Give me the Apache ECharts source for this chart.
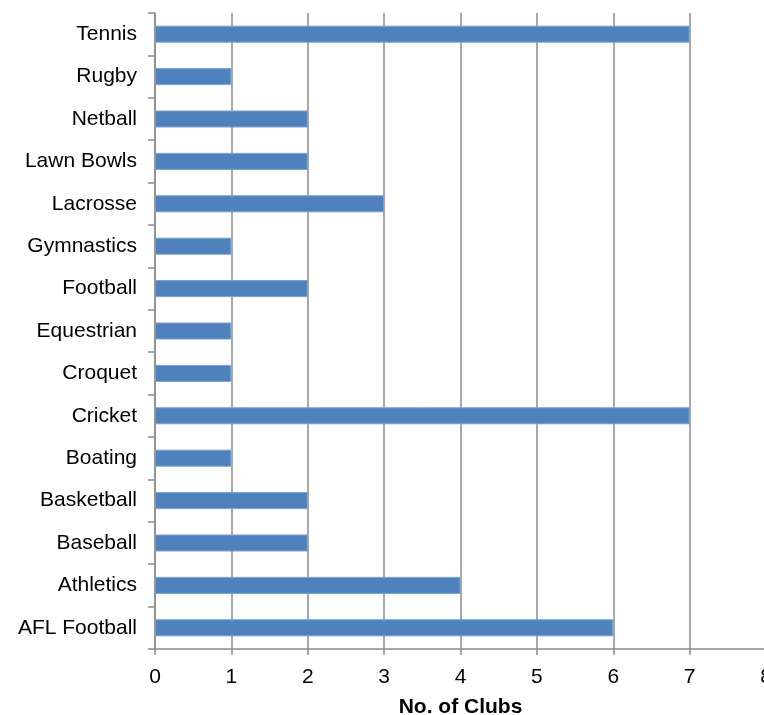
<!DOCTYPE html>
<html>
<head>
<meta charset="utf-8">
<script src="https://cdn.jsdelivr.net/npm/echarts@6/dist/echarts.min.js"></script>
<style>
  html, body { margin: 0; padding: 0; background: #fff; }
  #chart { width: 764px; height: 715px; }
</style>
</head>
<body>
<div id="chart"></div>
<script>
// Sports and number of clubs, listed bottom to top
const sports = ['AFL Football', 'Athletics', 'Baseball', 'Basketball', 'Boating', 'Cricket',
  'Croquet', 'Equestrian', 'Football', 'Gymnastics', 'Lacrosse', 'Lawn Bowls', 'Netball',
  'Rugby', 'Tennis'];
const clubCounts = [6, 4, 2, 2, 1, 7, 1, 1, 2, 1, 3, 2, 2, 1, 7];
const xTickValues = [0, 1, 2, 3, 4, 5, 6, 7, 8];

const axisGray = '#8c8c8c';
const font = 'Liberation Sans, Arial, sans-serif';

const chart = echarts.init(document.getElementById('chart'), null, { renderer: 'canvas' });
chart.setOption({
  animation: false,
  grid: { left: 155, top: 13, width: 611, bottom: 66, containLabel: false, outerBoundsMode: 'none' },
  xAxis: {
    type: 'value',
    min: xTickValues[0],
    max: xTickValues[xTickValues.length - 1],
    interval: 1,
    name: 'No. of Clubs',
    nameLocation: 'middle',
    nameGap: 48,
    nameTextStyle: { fontFamily: font, fontSize: 21, fontWeight: 'bold', color: '#000' },
    axisLine: { show: true, lineStyle: { color: axisGray, width: 1.5 } },
    axisTick: { show: true, length: 6, lineStyle: { color: axisGray, width: 1.5 } },
    axisLabel: { fontFamily: font, fontSize: 21, color: '#000', margin: 18 },
    splitLine: { show: true, lineStyle: { color: axisGray, width: 1.5 } }
  },
  yAxis: {
    type: 'category',
    data: sports,
    axisLine: { show: true, lineStyle: { color: axisGray, width: 1.5 } },
    axisTick: { show: true, length: 7, lineStyle: { color: axisGray, width: 1.5 } },
    axisLabel: { fontFamily: font, fontSize: 21, color: '#000', margin: 18 },
    splitLine: { show: false }
  },
  series: [{
    type: 'bar',
    data: clubCounts,
    barWidth: 17,
    itemStyle: { color: '#4F81BD', borderColor: '#7aa0cf', borderWidth: 1 }
  }]
});
</script>
</body>
</html>
